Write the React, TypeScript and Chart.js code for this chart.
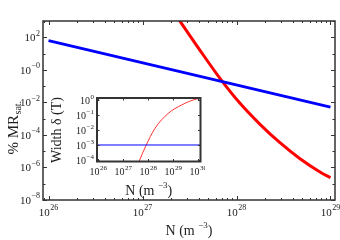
import React, { useEffect, useRef } from "react";
import { Chart, registerables } from "chart.js";
Chart.register(...registerables);

// ---- data ----
const blueN = [1e26, 1e29];
const blueMR = [62, 5.1e-3];
const redN = [2.22e27, 2.51e27, 4.09e27, 6.67e27, 1.09e28, 1.78e28, 2.9e28, 4.74e28, 7.73e28, 1e29];
const redMR = [2700, 955, 15.8, 0.3, 8.75e-3, 4.48e-4, 3.31e-5, 3.44e-6, 5.31e-7, 2.34e-7];

const insetBlueN = [8e25, 1.3e30];
const insetBlueW = [1e-3, 1e-3];
const insetRedN = [3.1e27, 4.25e27, 7.9e27, 1.85e28, 6.3e28, 2.17e29, 8.6e29, 1e30];
const insetRedW = [2.1e-5, 7.8e-5, 8.5e-4, 1.29e-2, 0.129, 0.47, 1.17, 1.2];

const mainXLabelExps = [26, 27, 28, 29];
const mainYLabelExps = [2, 0, -2, -4, -6, -8];
const mainYLabelTexts = ["2", "\u22120", "\u22122", "\u22124", "\u22126", "\u22128"];
const mainYTickExps = [3, 2, 1, 0, -1, -2, -3, -4, -5, -6, -7, -8];
const insetXLabelExps = [26, 27, 28, 29, 30];
const insetYLabelExps = [0, -1, -2, -3, -4];
const insetYLabelTexts = ["0", "\u22121", "\u22122", "\u22123", "\u22124"];

const FONT = '"Liberation Serif", "DejaVu Serif", serif';
const FRAME = "#333333";
const TEXT = "#222222";

function pts(xs: number[], ys: number[]) {
  return xs.map((x, i) => ({ x, y: ys[i] }));
}

function drawPow(ctx: CanvasRenderingContext2D, exp: string, x: number, y: number, align: string, bs: number, es: number) {
  ctx.save();
  ctx.fillStyle = TEXT;
  ctx.textBaseline = "middle";
  ctx.textAlign = "left";
  ctx.font = `${bs}px ${FONT}`;
  const wb = ctx.measureText("10").width;
  ctx.font = `${es}px ${FONT}`;
  const we = ctx.measureText(exp).width;
  const total = wb + we + 0.5;
  const sx = align === "right" ? x - total : x - total / 2;
  ctx.font = `${bs}px ${FONT}`;
  ctx.fillText("10", sx, y);
  ctx.font = `${es}px ${FONT}`;
  ctx.fillText(exp, sx + wb + 0.5, y - bs * 0.42);
  ctx.restore();
}

function drawNTitle(ctx: CanvasRenderingContext2D, cx: number, cy: number) {
  ctx.save();
  ctx.fillStyle = TEXT;
  ctx.textBaseline = "middle";
  ctx.textAlign = "left";
  const a = "N (m ";
  const e = "\u22123";
  const b = ")";
  ctx.font = `14px ${FONT}`;
  const wa = ctx.measureText(a).width;
  const wbb = ctx.measureText(b).width;
  ctx.font = `9px ${FONT}`;
  const we = ctx.measureText(e).width;
  const sx = cx - (wa + we + wbb) / 2;
  ctx.font = `14px ${FONT}`;
  ctx.fillText(a, sx, cy);
  ctx.fillText(b, sx + wa + we, cy);
  ctx.font = `9px ${FONT}`;
  ctx.fillText(e, sx + wa, cy - 5);
  ctx.restore();
}

function hline(ctx: CanvasRenderingContext2D, x1: number, y1: number, x2: number, y2: number) {
  ctx.beginPath();
  ctx.moveTo(x1, y1);
  ctx.lineTo(x2, y2);
  ctx.stroke();
}

const mainDecor = {
  id: "mainDecor",
  afterDraw(chart: any) {
    const { ctx, chartArea: a, scales } = chart;
    const xs = scales.x;
    const ys = scales.y;
    ctx.save();
    ctx.strokeStyle = FRAME;
    ctx.lineWidth = 1;
    for (const e of mainYTickExps) {
      const py = Math.round(ys.getPixelForValue(Math.pow(10, e))) + 0.5;
      const len = mainYLabelExps.includes(e) ? 4 : 2.5;
      hline(ctx, a.left, py, a.left + len, py);
      hline(ctx, a.right, py, a.right - len, py);
    }
    for (let n = 25; n <= 29; n++) {
      for (let k = 1; k <= 9; k++) {
        const v = k * Math.pow(10, n);
        if (v < xs.min || v > xs.max) continue;
        const px = Math.round(xs.getPixelForValue(v)) + 0.5;
        const len = k === 1 ? 4 : 2;
        hline(ctx, px, a.bottom, px, a.bottom - len);
        hline(ctx, px, a.top, px, a.top + len);
      }
    }
    ctx.lineWidth = 1.5;
    ctx.strokeRect(a.left, a.top, a.right - a.left, a.bottom - a.top);
    ctx.restore();

    mainYLabelExps.forEach((e, i) => {
      drawPow(ctx, mainYLabelTexts[i], 40, ys.getPixelForValue(Math.pow(10, e)) + 1, "right", 11, 8);
    });
    mainXLabelExps.forEach((e) => {
      drawPow(ctx, String(e), xs.getPixelForValue(Math.pow(10, e)), 213, "center", 11, 8);
    });
    drawNTitle(ctx, (a.left + a.right) / 2, 231);

    // y title
    ctx.save();
    ctx.translate(14, 128);
    ctx.rotate(-Math.PI / 2);
    ctx.fillStyle = TEXT;
    ctx.textBaseline = "middle";
    ctx.textAlign = "left";
    ctx.font = `15px ${FONT}`;
    const t1 = "% MR";
    const w1 = ctx.measureText(t1).width;
    ctx.font = `10px ${FONT}`;
    const t2 = "sat.";
    const w2 = ctx.measureText(t2).width;
    const sx = -(w1 + w2) / 2;
    ctx.font = `15px ${FONT}`;
    ctx.fillText(t1, sx, 0);
    ctx.font = `10px ${FONT}`;
    ctx.fillText(t2, sx + w1 + 0.5, 4);
    ctx.restore();
  },
};

const INSET_LEFT = 40;
const INSET_TOP = 85;

const insetDecor = {
  id: "insetDecor",
  afterDraw(chart: any) {
    const { ctx, chartArea: a, scales } = chart;
    const xs = scales.x;
    const ys = scales.y;
    ctx.save();
    ctx.strokeStyle = FRAME;
    ctx.lineWidth = 1;
    for (const e of insetYLabelExps) {
      const py = Math.round(ys.getPixelForValue(Math.pow(10, e))) + 0.5;
      hline(ctx, a.left, py, a.left + 2.5, py);
      hline(ctx, a.right, py, a.right - 2.5, py);
    }
    for (const e of insetXLabelExps) {
      const px = Math.round(xs.getPixelForValue(Math.pow(10, e))) + 0.5;
      hline(ctx, px, a.bottom, px, a.bottom - 2.5);
      hline(ctx, px, a.top, px, a.top + 2.5);
    }
    ctx.lineWidth = 2;
    ctx.strokeRect(a.left, a.top, a.right - a.left, a.bottom - a.top);
    ctx.restore();

    insetYLabelExps.forEach((e, i) => {
      drawPow(ctx, insetYLabelTexts[i], a.left - 3, ys.getPixelForValue(Math.pow(10, e)) + 1, "right", 10, 7);
    });
    insetXLabelExps.forEach((e) => {
      drawPow(ctx, String(e), xs.getPixelForValue(Math.pow(10, e)), 172.5 - INSET_TOP, "center", 10, 7);
    });
    drawNTitle(ctx, (a.left + a.right) / 2, 191 - INSET_TOP);

    ctx.save();
    ctx.translate(57 - INSET_LEFT, 130 - INSET_TOP);
    ctx.rotate(-Math.PI / 2);
    ctx.fillStyle = TEXT;
    ctx.textBaseline = "middle";
    ctx.textAlign = "center";
    ctx.font = `14px ${FONT}`;
    ctx.fillText("Width \u03b4 (T)", 0, 0);
    ctx.restore();
  },
};

export default function App() {
  const mainRef = useRef<HTMLCanvasElement | null>(null);
  const insetRef = useRef<HTMLCanvasElement | null>(null);

  useEffect(() => {
    const main = new Chart(mainRef.current as HTMLCanvasElement, {
      type: "scatter",
      data: {
        datasets: [
          {
            data: pts(blueN, blueMR),
            showLine: true,
            borderColor: "#0000ff",
            borderWidth: 3,
            pointRadius: 0,
            clip: 0,
          },
          {
            data: pts(redN, redMR),
            showLine: true,
            borderColor: "#ff0000",
            borderWidth: 3,
            pointRadius: 0,
            cubicInterpolationMode: "monotone",
            clip: 0,
          },
        ],
      } as any,
      options: {
        animation: false,
        responsive: false,
        events: [],
        layout: { padding: { left: 43, top: 21, right: 5, bottom: 40 } },
        plugins: { legend: { display: false }, tooltip: { enabled: false } },
        scales: {
          x: { type: "logarithmic", min: 8.73e25, max: 1.117e29, display: false },
          y: { type: "logarithmic", min: 1e-8, max: 1e3, display: false },
        },
      } as any,
      plugins: [mainDecor],
    });

    const inset = new Chart(insetRef.current as HTMLCanvasElement, {
      type: "scatter",
      data: {
        datasets: [
          {
            data: pts(insetBlueN, insetBlueW),
            showLine: true,
            borderColor: "#0000ff",
            borderWidth: 1,
            pointRadius: 0,
            clip: 0,
          },
          {
            data: pts(insetRedN, insetRedW),
            showLine: true,
            borderColor: "#ff3333",
            borderWidth: 1,
            pointRadius: 0,
            cubicInterpolationMode: "monotone",
            clip: 0,
          },
        ],
      } as any,
      options: {
        animation: false,
        responsive: false,
        events: [],
        layout: { padding: { left: 57, top: 13, right: 4.5, bottom: 38.5 } },
        plugins: { legend: { display: false }, tooltip: { enabled: false } },
        scales: {
          x: { type: "logarithmic", min: 8.87e25, max: 1.225e30, display: false },
          y: { type: "logarithmic", min: 7.94e-5, max: 1.36, display: false },
        },
      } as any,
      plugins: [insetDecor],
    });

    return () => {
      main.destroy();
      inset.destroy();
    };
  }, []);

  return (
    <div style={{ position: "absolute", left: 0, top: 0, width: 340, height: 240, background: "#ffffff" }}>
      <canvas ref={mainRef} width={340} height={240} style={{ position: "absolute", left: 0, top: 0, display: "block" }} />
      <canvas
        ref={insetRef}
        width={165}
        height={115}
        style={{ position: "absolute", left: INSET_LEFT, top: INSET_TOP, display: "block" }}
      />
    </div>
  );
}
